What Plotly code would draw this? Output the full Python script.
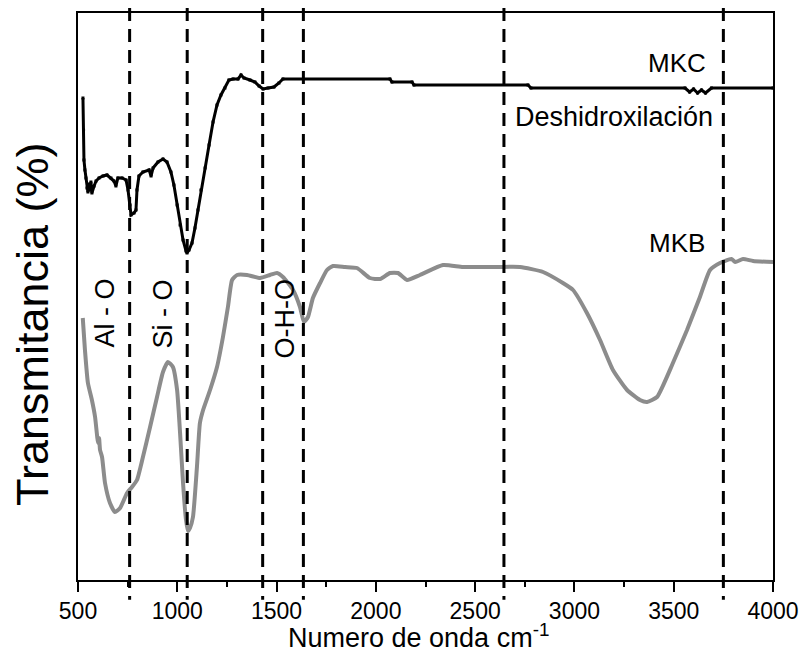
import plotly.graph_objects as go

# FTIR spectra (transmittance in arbitrary units)
mkc_wn = [525, 528, 530, 535, 540, 545, 550, 555, 560, 565, 570, 581, 591, 606, 626, 646,
          666, 681, 691, 701, 722, 742, 752, 762, 767, 782, 792, 797, 807, 827, 858, 868,
          878, 903, 928, 948, 968, 983, 999, 1014, 1029, 1044, 1049, 1059, 1074, 1089, 1104,
          1119, 1140, 1160, 1180, 1200, 1220, 1240, 1260, 1281, 1306, 1321, 1336, 1366, 1391,
          1412, 1432, 1457, 1487, 1512, 1532, 2071, 2081, 2182, 2192, 2766, 2781, 3557, 3580,
          3600, 3620, 3640, 3660, 3690, 4000]
mkc_t = [482, 450, 420, 410, 402, 392, 388, 396, 390, 398, 387, 394, 399, 402, 404, 405,
         402, 399, 394, 402, 402, 400, 390, 375, 365, 367, 370, 390, 404, 408, 410, 404,
         412, 418, 421, 418, 408, 395, 375, 355, 340, 329, 327, 330, 337, 352, 370,
         390, 412, 435, 458, 475, 485, 492, 500, 501, 501, 505, 502, 500, 498,
         494, 491, 492, 493, 497, 501, 501, 498, 498, 495, 495, 492, 492, 488,
         491, 487, 490, 487, 492, 492]

mkb_wn = [524, 535, 550, 570, 586, 601, 606, 611, 621, 636, 661, 686, 712, 747, 772, 797,
          827, 863, 898, 928, 953, 978, 999, 1014, 1029, 1044, 1054, 1064, 1079, 1099, 1114,
          1130, 1165, 1200, 1230, 1255, 1276, 1301, 1351, 1417, 1467, 1502, 1532, 1583, 1618,
          1638, 1658, 1683, 1719, 1754, 1784, 1845, 1905, 1970, 2021, 2071, 2111, 2157, 2222,
          2338, 2439, 2610, 2726, 2842, 2942, 2993, 3063, 3129, 3194, 3265, 3330, 3366, 3416,
          3496, 3567, 3632, 3683, 3733, 3790, 3810, 3849, 3900, 4000]
mkb_t = [262, 230, 197, 180, 163, 137, 142, 130, 123, 97, 77, 68, 72, 87, 93, 100,
         123, 153, 183, 208, 218, 213, 190, 147, 97, 60, 49, 52, 63, 113, 157,
         170, 190, 213, 243, 273, 300, 305, 305, 302, 305, 307, 303, 290, 273,
         258, 263, 282, 297, 310, 314, 313, 312, 302, 301, 307, 307, 300, 305,
         315, 313, 313, 313, 308, 297, 290, 267, 240, 210, 190, 180, 178, 183,
         217, 250, 283, 310, 317, 321, 318, 321, 319, 318]

# Band positions marked with vertical guides
band_wn = [760, 1050, 1430, 1635, 2645, 3750]

# Rotated band labels
band_labels = ["Al - O", "Si - O", "O-H-O"]
band_label_wn = [631, 928, 1542]

FONT = "Liberation Sans, Arial, sans-serif"

fig = go.Figure()

fig.add_trace(go.Scatter(
    x=mkb_wn, y=mkb_t, mode="lines", name="MKB",
    line=dict(color="#8c8c8c", width=4, shape="spline", smoothing=0.5),
    showlegend=False,
))
fig.add_trace(go.Scatter(
    x=mkc_wn, y=mkc_t, mode="lines+markers", name="MKC",
    line=dict(color="black", width=3),
    marker=dict(symbol="square", size=3, color="black"),
    showlegend=False,
))

for wn in band_wn:
    fig.add_shape(type="line", xref="x", yref="paper", x0=wn, x1=wn,
                  y0=1.0088, y1=-0.035,
                  line=dict(color="black", width=3, dash="13px,8px"))

for txt, wn in zip(band_labels, band_label_wn):
    fig.add_annotation(x=wn, y=303, xref="x", yref="y", text=txt, textangle=-90,
                       showarrow=False, xanchor="center", yanchor="top",
                       font=dict(family=FONT, size=27, color="black"))

fig.add_annotation(x=3673, y=517, text="MKC", showarrow=False, xanchor="right",
                   yanchor="middle", font=dict(family=FONT, size=26, color="black"))
fig.add_annotation(x=2690, y=463, text="Deshidroxilación", showarrow=False,
                   xanchor="left", yanchor="middle",
                   font=dict(family=FONT, size=27, color="black"))
fig.add_annotation(x=3668, y=337, text="MKB", showarrow=False, xanchor="right",
                   yanchor="middle", font=dict(family=FONT, size=26, color="black"))

# Axis titles
fig.add_annotation(x=-0.0647, y=0.45, xref="paper", yref="paper",
                   text="Transmitancia (%)", textangle=-90, showarrow=False,
                   xanchor="center", yanchor="middle",
                   font=dict(family=FONT, size=45, color="black"))
fig.add_annotation(x=0.4906, y=-0.0988, xref="paper", yref="paper",
                   text="Numero de onda cm<sup>-1</sup>", showarrow=False,
                   xanchor="center", yanchor="middle",
                   font=dict(family=FONT, size=27, color="black"))

fig.update_layout(
    width=803, height=659,
    margin=dict(l=78, r=30, t=13, b=79),
    paper_bgcolor="white", plot_bgcolor="white",
    font=dict(family=FONT, color="black"),
)
fig.update_xaxes(
    range=[500, 4000], tickvals=[500, 1000, 1500, 2000, 2500, 3000, 3500, 4000],
    ticks="outside", ticklen=10, tickwidth=1.5, tickcolor="black",
    minor=dict(ticks="outside", ticklen=5, tickwidth=1.5, tickcolor="black", dtick=250),
    showline=True, linecolor="black", linewidth=1.5, mirror=True,
    showgrid=False, zeroline=False, automargin=False,
    tickfont=dict(family=FONT, size=23, color="black"),
)
fig.update_yaxes(
    range=[0, 567], showticklabels=False, ticks="",
    showline=True, linecolor="black", linewidth=1.5, mirror=True,
    showgrid=False, zeroline=False, automargin=False,
)

fig.write_html("out.html")
